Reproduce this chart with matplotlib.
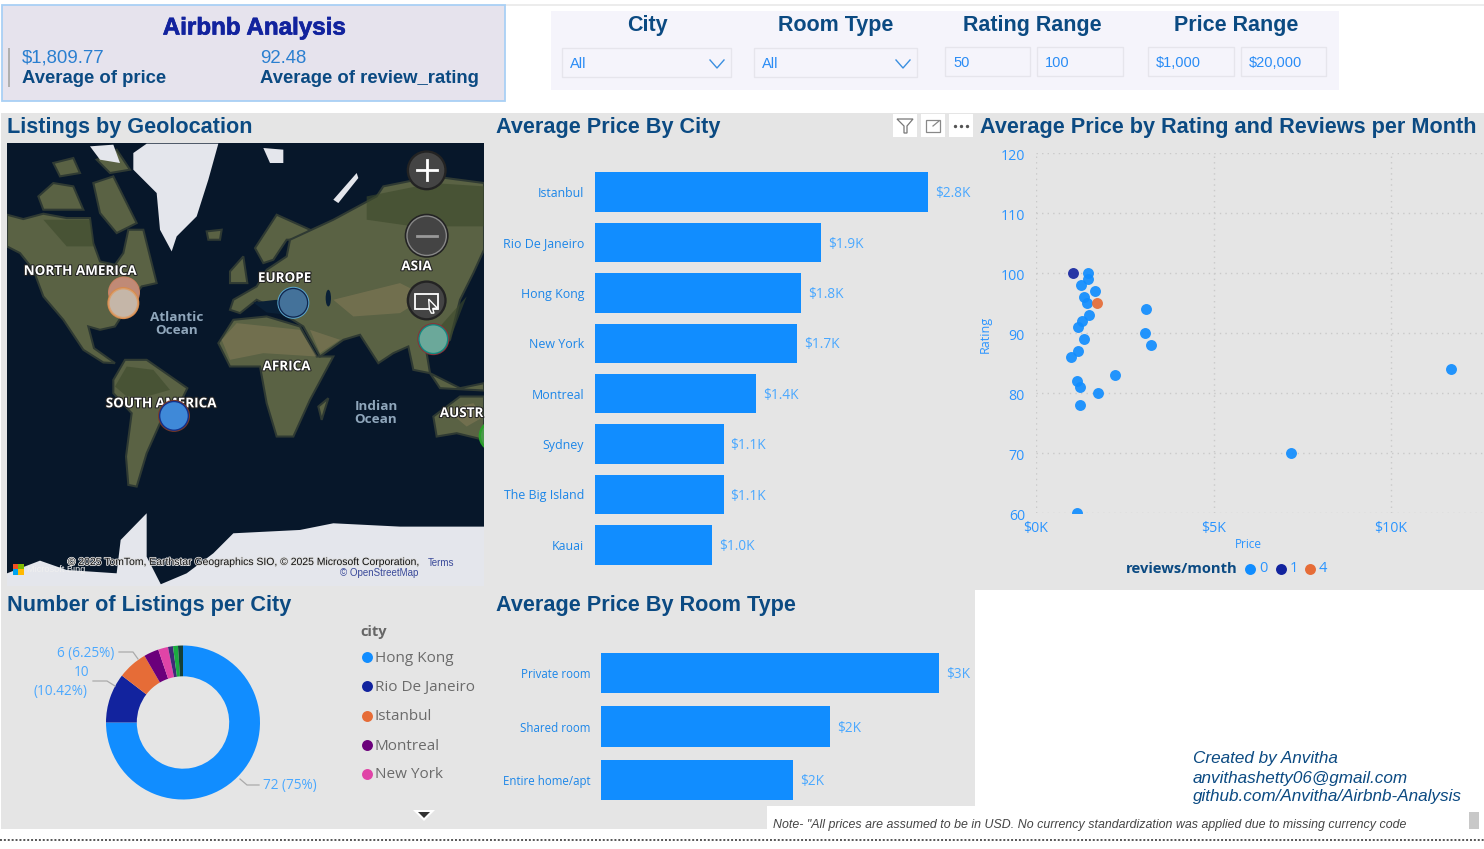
import matplotlib
matplotlib.use("Agg")
import matplotlib.pyplot as plt
from matplotlib.patches import Rectangle, Polygon, Circle, Ellipse
from matplotlib.transforms import ScaledTranslation
import matplotlib.patheffects as pe

W, H = 1484, 849
plt.rcParams['font.family'] = ['Liberation Sans', 'DejaVu Sans']
UI = ['Open Sans', 'DejaVu Sans']
NAVY = '#0b4a82'
BLUE = '#118dff'
LBLUE = '#4aa8ff'
PANEL = '#e5e5e5'

# ---------------- data ----------------
kpi_price = '$1,809.77'
kpi_rating = '92.48'

cities = ['Istanbul', 'Rio De Janeiro', 'Hong Kong', 'New York', 'Montreal',
          'Sydney', 'The Big Island', 'Kauai']
city_price = [2840, 1930, 1760, 1725, 1376, 1100, 1100, 1000]
city_labels = ['$2.8K', '$1.9K', '$1.8K', '$1.7K', '$1.4K', '$1.1K', '$1.1K', '$1.0K']

room_types = ['Private room', 'Shared room', 'Entire home/apt']
room_price = [2950, 2000, 1675]
room_labels = ['$3K', '$2K', '$2K']

donut_cities = ['Hong Kong', 'Rio De Janeiro', 'Istanbul', 'Montreal', 'New York',
                'Other A', 'Other B', 'Other C']
donut_counts = [72, 10, 6, 3, 2, 1, 1, 1]
legend_cities = donut_cities[:5]

price_rm0 = [1457, 1476, 1269, 1664, 1353, 1438, 1504, 1288, 1175, 1344, 1175, 987,
             1156, 1231, 1739, 2227, 1250, 3101, 3073, 3242, 1147, 7183, 11690]
rating_rm0 = [100, 99, 98, 97, 96, 95, 93, 92, 91, 89, 87, 86,
              82, 81, 80, 83, 78, 94, 90, 88, 60, 70, 84]
price_rm1 = [1033]
rating_rm1 = [100]
price_rm4 = [1729]
rating_rm4 = [95]

# map bubbles: x, y in map image units, fill, inner edge, outer edge
map_bubbles = [
    (372, 458, '#c08a76', '#c08a76', '#c9805f'),
    (370, 490, '#c5b6a8', '#d8a070', '#d88a4a'),
    (880, 489, '#44729a', '#10264e', '#5aa6cc'),
    (522, 828, '#3f89d8', '#12308a', '#7a3a28'),
    (1300, 598, '#6ba89a', '#128a80', '#8a3038'),
    (1484, 888, '#4a9a4a', '#2aa02a', '#2aa02a'),
]
# simplified land outlines for the map background
land_main = [
    # North America mainland
    [(21,225),(70,238),(130,222),(200,235),(270,235),(280,310),(300,365),(345,375),(370,340),(385,270),(430,270),(470,430),(425,440),(390,490),(345,560),(300,570),(265,560),(282,625),(345,670),(310,668),(250,630),(190,540),(130,470),(100,390),(60,340),(21,320)],
    # Arctic islands
    [(115,170),(160,130),(220,140),(250,210),(130,210)],
    [(160,70),(220,55),(240,100),(180,110)],
    [(280,130),(340,110),(410,250),(350,280),(300,220)],
    [(290,60),(350,30),(390,90),(330,100)],
    # South America
    [(340,720),(375,660),(440,660),(562,745),(540,790),(480,850),(440,940),(410,1040),(385,1035),(378,950),(395,820),(340,760)],
    # Africa
    [(655,610),(700,540),(800,530),(900,560),(950,650),(1000,650),(930,780),(880,890),(830,890),(800,790),(780,680),(690,680)],
    # Scandinavia
    [(765,325),(830,225),(930,270),(900,300),(860,300),(820,360),(790,370)],
    # Eurasia
    [(690,510),(700,480),(770,440),(800,390),(860,350),(870,300),(1000,240),(1130,170),(1150,140),(1300,110),(1452,130),(1452,330),(1420,400),(1380,480),(1350,600),(1300,640),(1280,640),(1290,700),(1240,690),(1225,620),(1180,640),(1135,670),(1080,585),(1030,600),(960,650),(910,560),(830,510),(770,480),(720,520)],
    # UK, Iceland, Madagascar, Australia, Indonesia
    [(690,395),(730,350),(742,430),(690,430)],
    [(620,275),(665,270),(660,300),(625,300)],
    [(955,800),(985,775),(965,840)],
    [(1300,830),(1380,770),(1452,770),(1452,900),(1370,880),(1310,890)],
    [(1290,700),(1380,745),(1452,730),(1452,752),(1320,745)],
]
land_dark = [
    [(345,740),(380,680),(460,690),(510,750),(440,770),(380,770)],
    [(130,240),(270,240),(280,320),(200,320)],
    [(1100,170),(1300,130),(1452,140),(1452,260),(1240,260),(1100,240)],
    [(1320,560),(1400,470),(1350,600)],
]
land_tan = [
    [(665,600),(710,550),(900,570),(950,650),(790,640),(690,660)],
    [(1000,480),(1200,430),(1280,470),(1200,520),(1060,530)],
    [(1340,810),(1420,790),(1452,830),(1400,860)],
    [(930,570),(1020,600),(960,640)],
]
ice = [
    [(400,40),(440,12),(655,12),(625,120),(590,230),(530,290),(515,335),(480,270),(470,160),(400,90)],
    [(21,1300),(120,1262),(200,1290),(350,1300),(362,1200),(440,1120),(440,1250),(485,1338),(21,1338)],
    [(640,1240),(700,1180),(900,1170),(1000,1150),(1200,1160),(1452,1160),(1452,1338),(470,1338),(560,1300)],
    [(790,25),(850,30),(850,70),(810,70)],
    [(1000,180),(1070,100),(1075,115),(1015,190)],
    [(270,20),(340,15),(360,70),(300,60)],
]
map_labels = [('NORTH AMERICA', 241, 395, 'white'), ('EUROPE', 854, 416, 'white'), ('ASIA', 1250, 381, 'white'),
              ('AFRICA', 860, 681, 'white'), ('SOUTH AMERICA', 484, 792, 'white'), ('AUSTR', 1385, 821, 'white'),
              ('Atlantic\nOcean', 530, 553, '#8fa6bb'), ('Indian\nOcean', 1128, 818, '#8fa6bb')]

# ---------------- figure ----------------
fig = plt.figure(figsize=(W / 100, H / 100), dpi=100, facecolor='white')


def px_axes(l, t, r, b, z=2):
    ax = fig.add_axes([l / W, 1 - b / H, (r - l) / W, (b - t) / H], zorder=z)
    ax.patch.set_alpha(0)
    return ax


bg = px_axes(0, 0, W, H, 0)
bg.set_xlim(0, W)
bg.set_ylim(H, 0)
bg.axis('off')
fg = px_axes(0, 0, W, H, 6)
fg.set_xlim(0, W)
fg.set_ylim(H, 0)
fg.axis('off')


def rect(ax, l, t, r, b, fc, ec='none', lw=1, z=1):
    ax.add_patch(Rectangle((l, t), r - l, b - t, fc=fc, ec=ec, lw=lw, zorder=z))


def T(x, y, s, size=12, color=NAVY, ha='left', va='center', ax=None, **kw):
    return (ax or fg).text(x, y + 1, s, fontsize=size, color=color, ha=ha, va=va, **kw)


# panels
rect(bg, 505, 4, W, 6, '#ececec')
rect(bg, 2, 5, 505, 101, '#e6e3ed', '#a9d0f5', 1.3)
rect(bg, 551, 11, 1339, 90, '#f5f4fb')
rect(bg, 1, 113, 975, 590, PANEL)
rect(bg, 975, 113, W, 590, PANEL)
rect(bg, 1, 590, 975, 829, PANEL)
rect(bg, 767, 806, W, 833, 'white', z=2)
rect(bg, 1469, 812, 1479, 829, '#c8c8c8', z=3)
bg.plot([0, W], [840, 840], color='#555555', lw=1.4, ls=(0, (1, 1)), zorder=3)

# header
T(254, 27, 'Airbnb Analysis', 17.4, '#12239e', ha='center', fontweight='bold',
  path_effects=[pe.withStroke(linewidth=0.5, foreground='#12239e')])
rect(fg, 8, 48, 10, 87, '#b0b0b0')
T(22, 57, kpi_price, 13.4, '#2a7fd0')
T(22, 77, 'Average of price', 13.3, NAVY, fontweight='bold')
T(260, 57, kpi_rating, 13.4, '#2a7fd0')
T(260, 77, 'Average of review_rating', 13.3, NAVY, fontweight='bold')

# slicers
for x, s in [(647, 'City'), (836, 'Room Type'), (1032, 'Rating Range'), (1236, 'Price Range')]:
    T(x, 24, s, 15.5, NAVY, ha='center', fontweight='bold',
      family=['Liberation Sans Narrow', 'Liberation Sans'])
for l, r, s, t, b in [(562, 731, 'All', 48, 77), (754, 917, 'All', 48, 77), (945, 1030, '50', 47, 76),
                      (1037, 1123, '100', 47, 76), (1148, 1234, '$1,000', 47, 76), (1241, 1326, '$20,000', 47, 76)]:
    rect(fg, l, t, r, b, '#f5f4fb', '#e6e5ec', 1)
    T(l + 8, (t + b) / 2, s, 10.5, '#2a8cf5')
for cx in (717, 903):
    fg.plot([cx - 7, cx, cx + 7], [60, 68, 60], color='#3a8fe0', lw=1)

# titles
for x, y, s in [(7, 125, 'Listings by Geolocation'), (496, 125, 'Average Price By City'),
                (980, 125, 'Average Price by Rating and Reviews per Month'),
                (7, 603, 'Number of Listings per City'), (496, 604, 'Average Price By Room Type')]:
    T(x, y + 1, s, 15.6, fontweight='bold')

# visual header icons
for l in (893, 921, 949):
    rect(fg, l, 114, l + 24, 137, 'white')
fg.add_patch(Polygon([(897, 119), (913, 119), (907, 126), (907, 133), (904, 133), (904, 126)], fc='none', ec='#777777', lw=0.9))
fg.add_patch(Rectangle((926, 120), 14, 12, fc='none', ec='#888888', lw=0.9))
fg.plot([933, 939], [126, 121], color='#888888', lw=0.9)
fg.scatter([955, 961, 967], [126, 126, 126], s=2, color='#555555')

# ---------------- map ----------------
m = px_axes(7, 143, 484, 586, 3)
m.set_xlim(21, 1452)
m.set_ylim(1338, 10)
m.set_xticks([])
m.set_yticks([])
for sp in m.spines.values():
    sp.set_visible(False)
m.patch.set_alpha(1)
m.set_facecolor('#07172a')
for p in land_main:
    m.add_patch(Polygon(p, fc='#5a6244', ec='#2f3a33', lw=1.5, zorder=1))
for p in land_dark:
    m.add_patch(Polygon(p, fc='#3d4a2c', ec='none', zorder=2, alpha=0.6))
for p in land_tan:
    m.add_patch(Polygon(p, fc='#857a58', ec='none', zorder=2, alpha=0.55))
m.add_patch(Ellipse((985, 475), 16, 50, fc='#0a2036', zorder=3))
m.add_patch(Polygon([(760, 488), (830, 480), (880, 500), (900, 530), (800, 518)], fc='#0a2036', zorder=3))
for p in ice:
    m.add_patch(Polygon(p, fc='#e4e6ec', ec='none', zorder=3))
for txt, x, y, col in map_labels:
    m.text(x, y, txt, fontsize=9.7, color=col, ha='center', va='center', fontweight='bold',
           family=UI, linespacing=1.0, zorder=4,
           path_effects=[pe.withStroke(linewidth=1.5, foreground='#222222')] if col == 'white' else None)
for x, y, fc, ie, oe in map_bubbles:
    m.add_patch(Circle((x, y), 48, fc=oe, ec='none', zorder=5))
    m.add_patch(Circle((x, y), 45, fc=ie, ec='none', zorder=5))
    m.add_patch(Circle((x, y), 41, fc=fc, ec='none', zorder=5))
# zoom buttons
for y, rr in [(92, 60), (288, 66), (482, 60)]:
    m.add_patch(Circle((1280, y), rr, fc='#232323', ec='none', zorder=6))
    m.add_patch(Circle((1280, y), rr - 7, fc='#444444', ec='#888888' if y == 288 else 'none', lw=1, zorder=6))
m.plot([1250, 1310], [92, 92], color='white', lw=2, zorder=7)
m.plot([1280, 1280], [62, 122], color='white', lw=2, zorder=7)
m.plot([1250, 1310], [288, 288], color='#999999', lw=2, zorder=7)
m.add_patch(Rectangle((1244, 462), 70, 46, fc='none', ec='white', lw=1.3, zorder=7))
m.add_patch(Polygon([(1286, 478), (1312, 505), (1298, 506), (1302, 520), (1294, 520), (1288, 508)], fc='#444444', ec='white', lw=1, zorder=8))
# attribution
m.text(728, 1266, '© 2025 TomTom, Earthstar Geographics SIO, © 2025 Microsoft Corporation,', fontsize=7.5, color='#111111',
       ha='center', va='center', zorder=9, path_effects=[pe.withStroke(linewidth=1.2, foreground='#dddddd')])
m.text(1322, 1269, 'Terms', fontsize=7, color='#3a4a9a', ha='center', va='center', zorder=9)
m.text(1255, 1299, '© OpenStreetMap', fontsize=7, color='#3a4a9a', ha='right', va='center', zorder=9)
for (x, y, col) in [(46, 1279, '#f25022'), (63, 1279, '#7fba00'), (46, 1296, '#00a4ef'), (63, 1296, '#ffb900')]:
    m.add_patch(Rectangle((x - 8, y - 8), 16, 16, fc=col, zorder=9))
m.text(80, 1288, 'Microsoft Bing', fontsize=6.6, color='#f0f0f0', va='center', zorder=9)


# ---------------- bars ----------------
def hbar(ax, names, vals, labs, height, tick_size):
    ys = list(range(len(names)))
    bars = ax.barh(ys, vals, height=height, color=BLUE)
    ax.set_yticks(ys, names)
    ax.set_ylim(len(names) - 0.5, -0.5)
    ax.set_xticks([])
    ax.tick_params(axis='y', length=0, pad=7.5, labelsize=tick_size, labelcolor='#1c86e8')
    for t in ax.get_yticklabels():
        t.set_fontfamily(UI)
    for t in ax.bar_label(bars, labels=labs, padding=5, color=LBLUE, fontsize=9.8, family=UI):
        t.xyann = (t.xyann[0], t.xyann[1] - 1.2)
    for sp in ax.spines.values():
        sp.set_visible(False)


c = px_axes(594.5, 167, 975, 570)
c.set_xlim(0, 380.5 / 333.5 * 2840)
hbar(c, cities, city_price, city_labels, 0.785, 8.9)

r = px_axes(601, 646.25, 975, 806.75)
r.set_xlim(0, 374 / 338 * 2950)
hbar(r, room_types, room_price, room_labels, 0.75, 8.3)

# ---------------- scatter ----------------
s = px_axes(1036, 153, 1484, 513)
s.set_xlim(0, 448 / 35.5 * 1000)
s.set_ylim(60, 120)
s.scatter(price_rm0, rating_rm0, s=62, color=BLUE, alpha=0.92, linewidths=0, zorder=3)
s.scatter(price_rm1, rating_rm1, s=62, color='#12239e', alpha=0.9, linewidths=0, zorder=4)
s.scatter(price_rm4, rating_rm4, s=62, color='#e66c37', alpha=0.92, linewidths=0, zorder=4)
s.set_xticks([0, 5000, 10000], ['$0K', '$5K', '$10K'])
s.set_yticks([60, 70, 80, 90, 100, 110, 120])
s.grid(True, color='#c9c9c9', ls=(0, (1, 3)), lw=1)
s.tick_params(length=0, labelsize=10.2, labelcolor='#2a94ff')
s.tick_params(axis='x', pad=5.5)
s.tick_params(axis='y', pad=8)
for t in s.get_xticklabels() + s.get_yticklabels():
    t.set_fontfamily(UI)
for t in s.get_yticklabels():
    t.set_transform(t.get_transform() + ScaledTranslation(0, -0.012, fig.dpi_scale_trans))
for sp in s.spines.values():
    sp.set_visible(False)
T(985, 333, 'Rating', 9, '#2a94ff', ha='center', rotation=90, family=UI)
T(1248, 544, 'Price', 8.5, '#2a94ff', ha='center', family=UI)
T(1126, 568, 'reviews/month', 10.6, NAVY, fontweight='bold', family=UI)
for x, col, lab in [(1250, BLUE, '0'), (1281, '#12239e', '1'), (1310, '#e66c37', '4')]:
    fg.scatter([x], [569], s=62, color=col, linewidths=0)
    T(x + 9, 568, lab, 10.5, '#2a94ff', family=UI)

# ---------------- donut ----------------
d = px_axes(106, 645.5, 260, 799.5)
donut_colors = ['#118dff', '#12239e', '#e66c37', '#6b007b', '#e044a7', '#3f2a78', '#1aab40', '#15403a']
d.pie(donut_counts, colors=donut_colors, startangle=90, counterclock=False, radius=1,
      wedgeprops=dict(width=0.4, linewidth=0))
d.set_xlim(-1, 1)
d.set_ylim(-1, 1)
for pts in ([(240, 779), (247, 785), (259, 785)], [(119, 652), (133, 652), (138, 659)], [(93, 681), (107, 681), (115, 686)]):
    fg.plot(*zip(*pts), color='#aaaaaa', lw=0.9)
T(263, 784, '72 (75%)', 9.8, LBLUE, family=UI)
T(114, 652, '6 (6.25%)', 9.8, LBLUE, ha='right', family=UI)
T(89, 672, '10', 9.8, LBLUE, ha='right', family=UI)
T(88, 691, '(10.42%)', 9.8, LBLUE, ha='right', family=UI)
T(360, 631, 'city', 10.5, '#666666', fontweight='bold', family=UI)
for y, name, col in zip([657, 686, 716, 745, 774], legend_cities, donut_colors):
    fg.scatter([367], [y], s=62, color=col, linewidths=0)
    T(375, y, name, 11, '#6b6b6b', family=UI)
fg.add_patch(Polygon([(413, 810), (435, 810), (424, 821)], fc='white', ec='none'))
fg.add_patch(Polygon([(418, 812), (430, 812), (424, 818)], fc='#333333', ec='none'))

# ---------------- footer ----------------
for y, line in [(757, 'Created by Anvitha'), (777, 'anvithashetty06@gmail.com'), (796, 'github.com/Anvitha/Airbnb-Analysis')]:
    T(1193, y, line, 12.3, NAVY, fontstyle='italic')
T(773, 824, 'Note- "All prices are assumed to be in USD. No currency standardization was applied due to missing currency code',
  8.88, '#444444', fontstyle='italic')

fig.savefig('out.png', dpi=100)
